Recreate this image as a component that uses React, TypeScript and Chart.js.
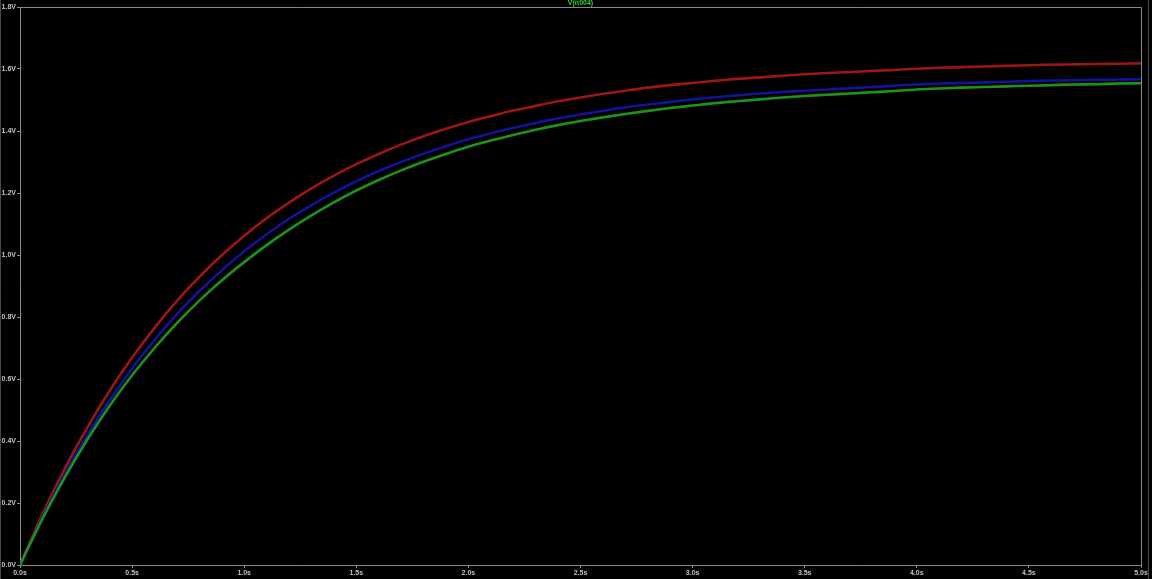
import React, { useEffect, useRef } from "react";
import { Chart, registerables } from "chart.js";

Chart.register(...registerables);

const times: number[] = [
  0.0, 0.1, 0.2, 0.3, 0.4, 0.5, 0.6, 0.7, 0.8, 0.9,
  1.0, 1.1, 1.2, 1.3, 1.4, 1.5, 1.6, 1.7, 1.8, 1.9,
  2.0, 2.1, 2.2, 2.3, 2.4, 2.5, 2.6, 2.7, 2.8, 2.9,
  3.0, 3.1, 3.2, 3.3, 3.4, 3.5, 3.6, 3.7, 3.8, 3.9,
  4.0, 4.1, 4.2, 4.3, 4.4, 4.5, 4.6, 4.7, 4.8, 4.9, 5.0,
];

const redValues: number[] = [
  0.0, 0.164, 0.311, 0.443, 0.562, 0.669, 0.765, 0.852, 0.929, 0.999,
  1.062, 1.119, 1.169, 1.215, 1.256, 1.293, 1.326, 1.356, 1.383, 1.407,
  1.429, 1.448, 1.466, 1.481, 1.496, 1.508, 1.520, 1.530, 1.540, 1.548,
  1.555, 1.562, 1.568, 1.573, 1.578, 1.583, 1.587, 1.590, 1.594, 1.597,
  1.601, 1.604, 1.606, 1.608, 1.610, 1.612, 1.614, 1.615, 1.616, 1.617, 1.618,
];

const blueValues: number[] = [
  0.0, 0.154, 0.293, 0.418, 0.532, 0.634, 0.726, 0.809, 0.883, 0.951,
  1.012, 1.067, 1.117, 1.161, 1.201, 1.238, 1.271, 1.300, 1.327, 1.351,
  1.373, 1.393, 1.410, 1.426, 1.441, 1.453, 1.465, 1.476, 1.485, 1.494,
  1.502, 1.509, 1.515, 1.521, 1.526, 1.530, 1.534, 1.538, 1.542, 1.546,
  1.550, 1.553, 1.555, 1.557, 1.559, 1.561, 1.563, 1.564, 1.565, 1.566, 1.567,
];

const greenValues: number[] = [
  0.0, 0.149, 0.283, 0.404, 0.514, 0.612, 0.700, 0.780, 0.853, 0.918,
  0.977, 1.032, 1.082, 1.128, 1.170, 1.208, 1.242, 1.273, 1.301, 1.326,
  1.349, 1.369, 1.387, 1.404, 1.419, 1.432, 1.444, 1.455, 1.465, 1.474,
  1.482, 1.490, 1.496, 1.502, 1.508, 1.513, 1.517, 1.521, 1.525, 1.529,
  1.534, 1.537, 1.540, 1.542, 1.544, 1.546, 1.548, 1.550, 1.551, 1.553, 1.554,
];

const titleText = "V(n004)";
const xTickSuffix = "s";
const yTickSuffix = "V";

const toPoints = (ys: number[]) => times.map((t, i) => ({ x: t, y: ys[i] }));

const framePlugin = {
  id: "ltspiceFrame",
  beforeDraw(chart: any) {
    const { ctx, width, height } = chart;
    ctx.save();
    ctx.fillStyle = "#000000";
    ctx.fillRect(0, 0, width, height);
    ctx.restore();
  },
  afterDraw(chart: any) {
    const { ctx, chartArea } = chart;
    const { left, right, top, bottom } = chartArea;
    ctx.save();
    ctx.strokeStyle = "#8a8a8a";
    ctx.lineWidth = 1;
    ctx.beginPath();
    ctx.moveTo(left, top + 0.5);
    ctx.lineTo(right + 0.5, top + 0.5);
    ctx.lineTo(right + 0.5, bottom);
    ctx.stroke();
    ctx.strokeStyle = "#4a4a4a";
    ctx.beginPath();
    ctx.moveTo(0.5, 0);
    ctx.lineTo(0.5, chart.height);
    ctx.moveTo(1148.5, 0);
    ctx.lineTo(1148.5, chart.height);
    ctx.stroke();
    ctx.fillStyle = "#33d633";
    ctx.font = "bold 7px 'Liberation Sans', Arial, sans-serif";
    ctx.textAlign = "center";
    ctx.textBaseline = "middle";
    ctx.fillText(titleText, (left + right) / 2, 3.5);
    ctx.restore();
  },
};

export default function App() {
  const canvasRef = useRef<HTMLCanvasElement | null>(null);

  useEffect(() => {
    document.body.style.margin = "0";
    document.body.style.background = "#000";
    const canvas = canvasRef.current;
    if (!canvas) return;
    const tickFont = { size: 7, weight: "bold" as const, family: "'Liberation Sans', Arial, sans-serif" };
    const chart = new Chart(canvas, {
      type: "line",
      data: {
        datasets: [
          {
            label: "green",
            data: toPoints(greenValues),
            borderColor: "#1c941c",
            borderWidth: 2.6,
            pointRadius: 0,
            cubicInterpolationMode: "monotone",
          },
          {
            label: "blue",
            data: toPoints(blueValues),
            borderColor: "#12129c",
            borderWidth: 2.6,
            pointRadius: 0,
            cubicInterpolationMode: "monotone",
          },
          {
            label: "red",
            data: toPoints(redValues),
            borderColor: "#9c1616",
            borderWidth: 2.6,
            pointRadius: 0,
            cubicInterpolationMode: "monotone",
          },
        ],
      },
      options: {
        animation: false,
        responsive: true,
        maintainAspectRatio: false,
        layout: { padding: { top: 7, right: 11, left: 0, bottom: 0 } },
        plugins: {
          legend: { display: false },
          tooltip: { enabled: false },
          title: { display: false },
        },
        scales: {
          x: {
            type: "linear",
            min: 0,
            max: 5,
            border: { color: "#8a8a8a", width: 1 },
            grid: { drawOnChartArea: false, color: "#8a8a8a", tickLength: 3 },
            ticks: {
              stepSize: 0.5,
              color: "#c4c4c4",
              font: tickFont,
              padding: 1,
              maxRotation: 0,
              autoSkip: false,
              callback: (v: any) => Number(v).toFixed(1) + xTickSuffix,
            },
            afterFit: (scale: any) => {
              scale.height = 14;
            },
          },
          y: {
            type: "linear",
            min: 0,
            max: 1.8,
            border: { color: "#8a8a8a", width: 1 },
            grid: { drawOnChartArea: false, color: "#8a8a8a", tickLength: 3 },
            ticks: {
              stepSize: 0.2,
              color: "#c4c4c4",
              font: tickFont,
              padding: 1,
              autoSkip: false,
              callback: (v: any) => Number(v).toFixed(1) + yTickSuffix,
            },
            afterFit: (scale: any) => {
              scale.width = 20;
            },
          },
        },
      },
      plugins: [framePlugin],
    } as any);
    return () => chart.destroy();
  }, []);

  return (
    <div style={{ width: 1152, height: 579, position: "relative", background: "#000" }}>
      <canvas ref={canvasRef} />
    </div>
  );
}
